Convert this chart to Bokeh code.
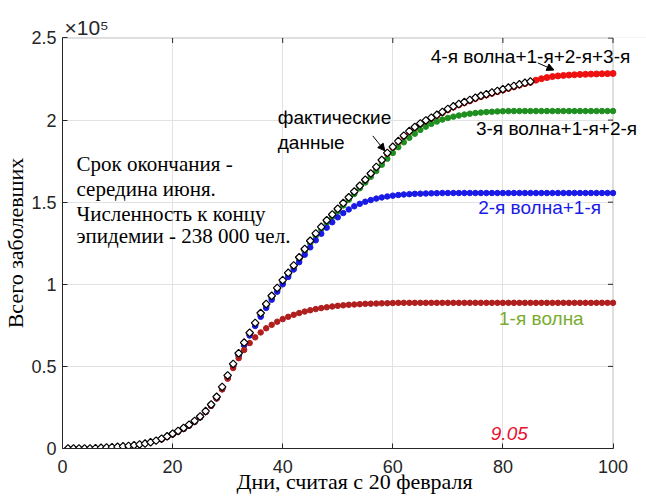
from bokeh.plotting import figure
from bokeh.models import (Label, Arrow, NormalHead, FixedTicker, CustomJSTickFormatter,
                          Range1d, BoxAnnotation)
from bokeh.embed import file_html
from bokeh.resources import INLINE

# values in units of 10^5 cases
days_actual = list(range(1, 86))
actual = [0.0, 0.0, 0.0, 0.0, 0.0, 0.002, 0.004, 0.006, 0.008, 0.01,
          0.013, 0.016, 0.02, 0.025, 0.03, 0.038, 0.048, 0.06, 0.074, 0.09,
          0.107, 0.125, 0.145, 0.168, 0.195, 0.228, 0.268, 0.315, 0.375, 0.445,
          0.515, 0.58, 0.645, 0.705, 0.765, 0.825, 0.88, 0.93, 0.978, 1.025,
          1.07, 1.115, 1.165, 1.215, 1.265, 1.31, 1.35, 1.39, 1.425, 1.46,
          1.495, 1.53, 1.565, 1.6, 1.637, 1.675, 1.715, 1.757, 1.8, 1.837,
          1.872, 1.905, 1.933, 1.958, 1.98, 1.998, 2.015, 2.032, 2.05, 2.068,
          2.084, 2.098, 2.11, 2.123, 2.136, 2.148, 2.158, 2.168, 2.178, 2.188,
          2.198, 2.208, 2.218, 2.227, 2.235]

days_model = list(range(18, 101))
wave1 = [0.058, 0.072, 0.087, 0.103, 0.12, 0.14, 0.163, 0.19, 0.222, 0.26, 0.305, 0.36, 0.425,
         0.49, 0.55, 0.60, 0.642, 0.677, 0.707, 0.732, 0.753, 0.772, 0.788,
         0.802, 0.814, 0.825, 0.834, 0.842, 0.849, 0.855, 0.86, 0.865, 0.869,
         0.872, 0.875, 0.877, 0.879, 0.881, 0.882, 0.883, 0.884, 0.885, 0.886,
         0.887, 0.887, 0.887, 0.887, 0.887, 0.887, 0.887, 0.887, 0.887, 0.887,
         0.887, 0.887, 0.887, 0.887, 0.887, 0.887, 0.887, 0.887, 0.887, 0.887,
         0.887, 0.887, 0.887, 0.887, 0.887, 0.887, 0.887, 0.887, 0.887, 0.887,
         0.887, 0.887, 0.887, 0.887, 0.887, 0.887, 0.887, 0.887, 0.887, 0.887]
wave2 = [0.058, 0.072, 0.087, 0.103, 0.12, 0.14, 0.163, 0.19, 0.222, 0.26, 0.305, 0.362, 0.43,
         0.50, 0.565, 0.628, 0.688, 0.746, 0.802, 0.856, 0.906, 0.955, 1.0,
         1.045, 1.09, 1.135, 1.18, 1.225, 1.268, 1.308, 1.345, 1.378, 1.408,
         1.434, 1.456, 1.475, 1.49, 1.503, 1.513, 1.522, 1.529, 1.535, 1.54,
         1.544, 1.547, 1.549, 1.551, 1.552, 1.553, 1.554, 1.555, 1.556, 1.556,
         1.556, 1.556, 1.556, 1.556, 1.556, 1.556, 1.556, 1.556, 1.556, 1.556,
         1.556, 1.556, 1.556, 1.556, 1.556, 1.556, 1.556, 1.556, 1.556, 1.556,
         1.556, 1.556, 1.556, 1.556, 1.556, 1.556, 1.556, 1.556, 1.556, 1.556]
wave3 = [0.058, 0.072, 0.087, 0.103, 0.12, 0.14, 0.163, 0.19, 0.222, 0.26, 0.305, 0.362, 0.43,
         0.50, 0.565, 0.63, 0.692, 0.752, 0.81, 0.865, 0.915, 0.963, 1.01,
         1.055, 1.10, 1.15, 1.20, 1.25, 1.295, 1.335, 1.375, 1.41, 1.445,
         1.48, 1.515, 1.55, 1.585, 1.62, 1.655, 1.69, 1.728, 1.765, 1.80,
         1.835, 1.865, 1.892, 1.917, 1.94, 1.96, 1.977, 1.991, 2.003, 2.013,
         2.021, 2.028, 2.034, 2.039, 2.043, 2.046, 2.049, 2.051, 2.053, 2.054,
         2.055, 2.055, 2.055, 2.055, 2.055, 2.055, 2.055, 2.055, 2.055, 2.055,
         2.055, 2.055, 2.055, 2.055, 2.055, 2.055, 2.055, 2.055, 2.055, 2.055]
wave4 = [0.057, 0.071, 0.087, 0.104, 0.122, 0.142, 0.165, 0.192, 0.225, 0.265, 0.31, 0.37, 0.44,
         0.51, 0.575, 0.64, 0.70, 0.76, 0.82, 0.875, 0.925, 0.973, 1.02,
         1.065, 1.11, 1.16, 1.21, 1.26, 1.305, 1.345, 1.385, 1.42, 1.455,
         1.49, 1.525, 1.56, 1.595, 1.632, 1.67, 1.71, 1.752, 1.795, 1.832,
         1.867, 1.9, 1.928, 1.953, 1.975, 1.993, 2.01, 2.027, 2.045, 2.063,
         2.079, 2.093, 2.105, 2.118, 2.131, 2.143, 2.153, 2.163, 2.173, 2.183,
         2.193, 2.203, 2.213, 2.222, 2.23, 2.243, 2.252, 2.259, 2.265, 2.269,
         2.272, 2.274, 2.276, 2.278, 2.279, 2.28, 2.281, 2.282, 2.283, 2.284]

x_ticks = [0, 20, 40, 60, 80, 100]
y_ticks = [0, 0.5, 1, 1.5, 2, 2.5]

AX = "#262626"
SANS = "Liberation Sans"
SERIF = "Liberation Serif"

X_END, Y_END = 100, 2.5

# frame runs to the right edge so that the right-hand notes are not clipped;
# the visible axes box is drawn from 0 to 100 below (range ends put its edges
# on half pixels so the lines stay crisp)
p = figure(width=646, height=499, x_range=Range1d(0, 106.085), y_range=Range1d(0, 2.50304),
           output_backend="svg", toolbar_location=None,
           min_border_left=62, min_border_right=0, min_border_top=37, min_border_bottom=51,
           x_axis_label="Дни, считая с 20 февраля", y_axis_label="Всего заболевших")
p.background_fill_color = "white"
p.border_fill_color = "white"
p.outline_line_color = None

# the x10^5 multiplier sits above the top-left corner
p.title.text = "×10⁵"
p.title.align = "left"
p.title.offset = 2
p.title.standoff = -3
p.title.text_font = SANS
p.title.text_font_size = "21px"
p.title.text_font_style = "normal"
p.title.text_color = AX

fmt = CustomJSTickFormatter(code="return tick.toString();")
for ax, ticks in ((p.xaxis[0], x_ticks), (p.yaxis[0], y_ticks)):
    ax.ticker = FixedTicker(ticks=ticks)
    ax.formatter = fmt
    ax.major_tick_in = 5
    ax.major_tick_out = 0
    ax.minor_tick_line_color = None
    ax.axis_line_color = AX
    ax.major_tick_line_color = AX
    ax.major_label_text_font = SANS
    ax.major_label_text_font_size = "18px"
    ax.major_label_text_color = AX
    ax.axis_label_text_font = SERIF
    ax.axis_label_text_font_size = "22px"
    ax.axis_label_text_font_style = "normal"
    ax.axis_label_text_color = "black"
p.xaxis.bounds = (0, X_END)
p.yaxis.bounds = (0, Y_END)
p.xaxis.major_label_standoff = 11
p.xaxis.axis_label_standoff = -7
p.yaxis.major_label_standoff = 6
p.yaxis.axis_label_standoff = 0

p.xgrid.ticker = FixedTicker(ticks=x_ticks)
p.ygrid.ticker = FixedTicker(ticks=y_ticks)
p.xgrid.grid_line_color = "#e2e2e2"
p.ygrid.grid_line_color = "#e2e2e2"

# blank out the grid to the right of the axes box
p.add_layout(BoxAnnotation(left=X_END, fill_color="white", fill_alpha=1.0,
                           line_color=None, level="underlay"))
# axes box
p.add_layout(BoxAnnotation(left=0, right=X_END, bottom=0, top=Y_END, fill_color=None,
                           line_color=AX, line_width=1, level="underlay"))

# inward ticks on the top and right edges of the box (5 px long)
tick_dx = 5 / 5.5
tick_dy = 5 / 164.4
p.segment(x0=x_ticks, y0=[Y_END] * len(x_ticks), x1=x_ticks, y1=[Y_END - tick_dy] * len(x_ticks),
          line_color=AX, line_width=1)
p.segment(x0=[X_END] * len(y_ticks), y0=y_ticks, x1=[X_END - tick_dx] * len(y_ticks), y1=y_ticks,
          line_color=AX, line_width=1)

# model curves
p.scatter(days_model, wave4, marker="circle", size=6, color="#ee1111")
p.scatter(days_model, wave3, marker="circle", size=5.5, color="#1f8f1f")
p.scatter(days_model, wave2, marker="circle", size=5.5, color="#1a1ae6")
p.scatter(days_model, wave1, marker="circle", size=5.5, color="#b01e1e")

# actual data: diamonds
p.scatter(days_actual, actual, marker="square", angle=0.785398, size=5.4,
          line_color="black", line_width=1.2, fill_color="white")


def label(x, y, text, font=SANS, size="19px", color="black", style="normal"):
    p.add_layout(Label(x=x, y=y, text=text, text_font=font, text_font_size=size,
                       text_color=color, text_font_style=style,
                       text_baseline="middle", text_align="left"))


label(39.1, 2.013, "фактические")
label(39.1, 1.861, "данные")
label(66.9, 2.39, "4-я волна+1-я+2-я+3-я")
label(75.1, 1.946, "3-я волна+1-я+2-я")
label(75.5, 1.466, "2-я волна+1-я", color="#1a1ae6")
label(79.3, 0.791, "1-я волна", color="#77ac30")
label(77.8, 0.091, "9.05", color="#e8112d", style="italic")

serif_lines = ["Срок окончания -", "середина июня.", "Численность к концу",
               "эпидемии - 238 000 чел."]
serif_y = [1.734, 1.581, 1.43, 1.296]
for t, yy in zip(serif_lines, serif_y):
    label(2.55, yy, t, font=SERIF, size="21px")

for xs, ys, xe, ye in ((56.36, 1.904, 58.55, 1.813), (86.36, 2.348, 89.27, 2.305)):
    p.add_layout(Arrow(end=NormalHead(size=7, fill_color="black", line_color="black"),
                       x_start=xs, y_start=ys, x_end=xe, y_end=ye, line_width=1))

open("out.html", "w").write(file_html(p, INLINE))
